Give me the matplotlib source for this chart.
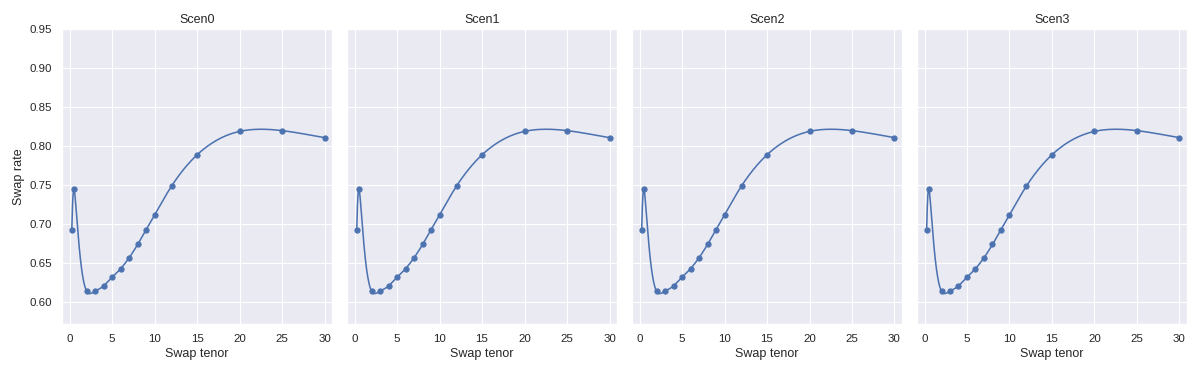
import numpy as np
import matplotlib
matplotlib.use("Agg")
import matplotlib.pyplot as plt
import seaborn as sns

# swap curve per scenario (all four scenarios read identical)
tenors = [0.25, 0.5, 2, 3, 4, 5, 6, 7, 8, 9, 10, 12, 15, 20, 25, 30]
rates = [0.693, 0.745, 0.614, 0.614, 0.621, 0.632, 0.643, 0.657, 0.674,
         0.693, 0.712, 0.749, 0.789, 0.819, 0.820, 0.811]
scenarios = ["Scen0", "Scen1", "Scen2", "Scen3"]


def natural_spline(x, y, xs):
    # natural cubic spline through (x, y), evaluated at xs
    x = np.asarray(x, float)
    y = np.asarray(y, float)
    n = len(x)
    h = np.diff(x)
    A = np.zeros((n, n))
    b = np.zeros(n)
    A[0, 0] = A[-1, -1] = 1
    for i in range(1, n - 1):
        A[i, i - 1] = h[i - 1]
        A[i, i] = 2 * (h[i - 1] + h[i])
        A[i, i + 1] = h[i]
        b[i] = 6 * ((y[i + 1] - y[i]) / h[i] - (y[i] - y[i - 1]) / h[i - 1])
    M = np.linalg.solve(A, b)
    idx = np.clip(np.searchsorted(x, xs) - 1, 0, n - 2)
    x0, x1 = x[idx], x[idx + 1]
    hh = x1 - x0
    return (M[idx] * (x1 - xs) ** 3 / (6 * hh) + M[idx + 1] * (xs - x0) ** 3 / (6 * hh)
            + (y[idx] / hh - M[idx] * hh / 6) * (x1 - xs)
            + (y[idx + 1] / hh - M[idx + 1] * hh / 6) * (xs - x0))


def main():
    sns.set_theme()
    plt.rcParams["font.family"] = ["Liberation Sans", "DejaVu Sans"]
    fig, axes = plt.subplots(1, 4, figsize=(16, 5), dpi=75, sharey=True)
    fig.subplots_adjust(left=0.0517, right=0.989, bottom=0.136, top=0.922,
                        wspace=0.0556)
    col = sns.color_palette()[0]
    # smooth curve: spline in log(tenor)
    xs = np.geomspace(tenors[0], tenors[-1], 800)
    ys = natural_spline(np.log(tenors), rates, np.log(xs))
    for ax, name in zip(axes, scenarios):
        ax.plot(xs, ys, color=col, lw=1.5)
        ax.plot(tenors, rates, "o", color=col, ms=5)
        ax.set_title(name)
        ax.set_xlabel("Swap tenor")
        ax.set_xlim(-0.9, 30.87)
        ax.set_xticks([0, 5, 10, 15, 20, 25, 30])
    axes[0].set_ylabel("Swap rate")
    axes[0].set_ylim(0.572, 0.95)
    axes[0].set_yticks(np.arange(0.60, 0.951, 0.05))
    fig.savefig("out.png", dpi=75)


if __name__ == "__main__":
    main()
